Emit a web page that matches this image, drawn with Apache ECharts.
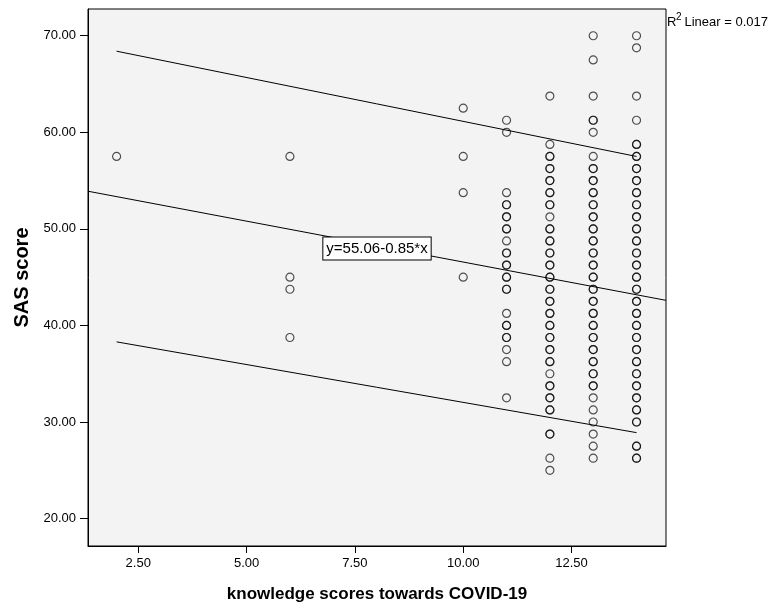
<!DOCTYPE html>
<html>
<head>
<meta charset="utf-8">
<script src="https://cdn.jsdelivr.net/npm/echarts@6/dist/echarts.min.js"></script>
<style>
html,body{margin:0;padding:0;background:#fff;}
#chart{width:772px;height:608px;}
</style>
</head>
<body>
<div id="chart"></div>
<script>
// ---- data ----
const knowledge = [2, 6, 10, 11, 12, 13, 14];
const sasAt2 = [57.5];
const sasAt6 = [57.5, 45, 43.75, 38.75];
const sasAt10 = [62.5, 57.5, 53.75, 45];
const sasAt11 = [61.25, 60, 53.75, 52.5, 52.5, 51.25, 51.25, 50, 50, 48.75, 47.5, 47.5, 46.25, 46.25, 45, 45, 43.75, 43.75, 41.25, 40, 40, 38.75, 38.75, 37.5, 36.25, 32.5];
const sasAt12 = [63.75, 58.75, 57.5, 57.5, 56.25, 56.25, 55, 55, 53.75, 53.75, 52.5, 52.5, 51.25, 50, 50, 48.75, 48.75, 47.5, 47.5, 46.25, 46.25, 45, 45, 43.75, 43.75, 42.5, 42.5, 41.25, 41.25, 40, 40, 38.75, 38.75, 37.5, 37.5, 36.25, 36.25, 35, 33.75, 33.75, 32.5, 32.5, 31.25, 31.25, 28.75, 28.75, 26.25, 25];
const sasAt13 = [70, 67.5, 63.75, 61.25, 61.25, 60, 57.5, 56.25, 56.25, 55, 55, 53.75, 53.75, 52.5, 52.5, 51.25, 51.25, 50, 50, 48.75, 48.75, 47.5, 47.5, 46.25, 46.25, 45, 45, 43.75, 43.75, 42.5, 42.5, 41.25, 41.25, 40, 40, 38.75, 38.75, 37.5, 37.5, 36.25, 36.25, 35, 35, 33.75, 33.75, 32.5, 31.25, 30, 28.75, 27.5, 26.25];
const sasAt14 = [70, 68.75, 63.75, 61.25, 58.75, 58.75, 57.5, 57.5, 56.25, 56.25, 55, 55, 53.75, 53.75, 52.5, 52.5, 51.25, 51.25, 50, 50, 48.75, 48.75, 47.5, 47.5, 46.25, 46.25, 45, 45, 43.75, 43.75, 42.5, 42.5, 41.25, 41.25, 40, 40, 38.75, 38.75, 37.5, 37.5, 36.25, 36.25, 35, 35, 33.75, 33.75, 32.5, 32.5, 31.25, 31.25, 30, 30, 27.5, 27.5, 26.25, 26.25];
const sasColumns = [sasAt2, sasAt6, sasAt10, sasAt11, sasAt12, sasAt13, sasAt14];

// fit line and prediction-interval lines (end points)
const fitX = [1.34, 14.68];
const fitY = [53.9, 42.6];
const upperX = [2, 14];
const upperY = [68.4, 57.5];
const lowerX = [2, 14];
const lowerY = [38.3, 28.9];

const xTicks = [2.5, 5, 7.5, 10, 12.5];
const yTicks = [20, 30, 40, 50, 60, 70];
const xRange = [1.34, 14.68];
const yRange = [17.16, 72.77];

const equationText = 'y=55.06-0.85*x';
const r2Text = 'Linear = 0.017';
const xTitle = 'knowledge scores towards COVID-19';
const yTitle = 'SAS score';

// ---- build ----
const points = [];
knowledge.forEach((k, i) => sasColumns[i].forEach(v => points.push([k, v])));
const zip = (a, b) => a.map((x, i) => [x, b[i]]);

const FONT = 'Liberation Sans, Arial, sans-serif';
const chart = echarts.init(document.getElementById('chart'), null, {renderer: 'canvas'});
chart.setOption({
  animation: false,
  backgroundColor: '#ffffff',
  textStyle: {fontFamily: FONT},
  grid: {left: 88, top: 9, width: 578, height: 542, show: true,
         backgroundColor: '#f3f3f3', borderColor: '#000', borderWidth: 1},
  xAxis: {
    type: 'value', min: xRange[0], max: xRange[1],
    name: xTitle, nameLocation: 'middle', nameGap: 40,
    nameTextStyle: {fontFamily: FONT, fontWeight: 'bold', fontSize: 17, color: '#000'},
    axisLine: {show: true, lineStyle: {color: '#000', width: 1}},
    axisTick: {show: true, length: 7, customValues: xTicks, lineStyle: {color: '#000', width: 1}},
    axisLabel: {customValues: xTicks, margin: 11, fontSize: 13, color: '#000', fontFamily: FONT,
                formatter: v => Number(v).toFixed(2)},
    splitLine: {show: false}
  },
  yAxis: {
    type: 'value', min: yRange[0], max: yRange[1],
    name: yTitle, nameLocation: 'middle', nameGap: 55, nameRotate: 90,
    nameTextStyle: {fontFamily: FONT, fontWeight: 'bold', fontSize: 20, color: '#000'},
    axisLine: {show: true, lineStyle: {color: '#000', width: 1}},
    axisTick: {show: true, length: 8, customValues: yTicks, lineStyle: {color: '#000', width: 1}},
    axisLabel: {customValues: yTicks, margin: 12, fontSize: 13, color: '#000', fontFamily: FONT,
                formatter: v => Number(v).toFixed(2)},
    splitLine: {show: false}
  },
  series: [
    {type: 'line', data: zip(fitX, fitY), symbol: 'none', silent: true,
     lineStyle: {color: '#000', width: 1}, z: 3},
    {type: 'line', data: zip(upperX, upperY), symbol: 'none', silent: true,
     lineStyle: {color: '#000', width: 1}, z: 3},
    {type: 'line', data: zip(lowerX, lowerY), symbol: 'none', silent: true,
     lineStyle: {color: '#000', width: 1}, z: 3},
    {type: 'scatter', data: points, symbol: 'circle', symbolSize: 8, z: 4,
     itemStyle: {color: 'rgba(0,0,0,0)', borderColor: 'rgba(0,0,0,0.85)', borderWidth: 1.2}}
  ],
  graphic: [
    {type: 'text', x: 377, y: 248.5, z: 100,
     style: {text: equationText, font: '15px ' + FONT, fill: '#000',
             align: 'center', verticalAlign: 'middle',
             backgroundColor: '#fff', borderColor: '#000', borderWidth: 1, padding: [4, 3, 3, 3]}},
    {type: 'text', x: 667, y: 22.5, style: {text: 'R', font: '13px ' + FONT, fill: '#000', verticalAlign: 'middle'}},
    {type: 'text', x: 676, y: 17, style: {text: '2', font: '10px ' + FONT, fill: '#000', verticalAlign: 'middle'}},
    {type: 'text', x: 684.5, y: 22.5, style: {text: r2Text, font: '13px ' + FONT, fill: '#000', verticalAlign: 'middle'}}
  ]
});
</script>
</body>
</html>
